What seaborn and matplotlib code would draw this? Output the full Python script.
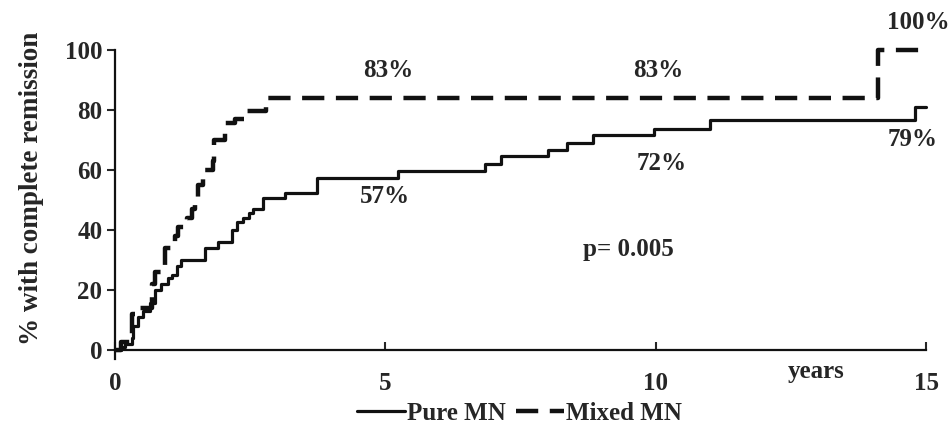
import matplotlib
matplotlib.use("Agg")
import matplotlib.pyplot as plt
import seaborn as sns
import pandas as pd

# ---- data ----
pure_t = [0, 0.12, 0.19, 0.31, 0.34, 0.43, 0.52, 0.65, 0.74, 0.86, 0.98, 1.05, 1.14, 1.23,
          1.67, 1.91, 2.16, 2.25, 2.37, 2.47, 2.56, 2.74, 3.15, 3.73, 5.24, 6.85, 7.13,
          8.0, 8.35, 8.84, 9.97, 11.0, 14.8, 15.0]
pure_y = [0, 1, 2, 4, 8, 11, 13, 15.5, 20, 22, 24, 25, 28, 30,
          34, 36, 40, 42.5, 44, 45.5, 47, 50.5, 52.3, 57.3, 59.8, 62, 64.5,
          66.7, 69, 71.7, 73.7, 76.6, 81, 81]

mixed_t = [0, 0.12, 0.31, 0.46, 0.68, 0.74, 0.93, 1.11, 1.17, 1.33, 1.42, 1.48, 1.54,
           1.63, 1.82, 1.84, 2.04, 2.22, 2.41, 2.8, 14.1, 15.0]
mixed_y = [0, 2.5, 12, 14, 22, 26, 34, 38, 41, 44, 47, 51, 55,
           60, 63, 70, 75.6, 77, 79.5, 84, 100, 100]

x_ticks = [0, 5, 10, 15]
y_ticks = [0, 20, 40, 60, 80, 100]

annotations = [("83%", 5.05, 93), ("83%", 10.05, 93), ("100%", 14.85, 109),
               ("57%", 5.0, 51), ("72%", 10.1, 62.3), ("79%", 14.75, 70),
               ("p= 0.005", 9.5, 33.5)]

series_labels = ["Pure MN", "Mixed MN"]

# ---- plotting ----
sns.set_style("ticks")
plt.rcParams["font.family"] = ["Liberation Serif", "DejaVu Serif"]
plt.rcParams["font.weight"] = "bold"

FS = 18

fig = plt.figure(figsize=(9.5, 4.38), dpi=100)
ax = fig.add_axes([0.121, 0.201, 0.854, 0.685])

df_pure = pd.DataFrame({"t": pure_t, "y": pure_y})
df_mixed = pd.DataFrame({"t": mixed_t, "y": mixed_y})

sns.lineplot(data=df_pure, x="t", y="y", ax=ax, color="#111111", linewidth=2.3,
             drawstyle="steps-post", estimator=None, clip_on=False)
sns.lineplot(data=df_mixed, x="t", y="y", ax=ax, color="#111111", linewidth=3.2,
             drawstyle="steps-post", estimator=None, clip_on=False,
             dashes=False)
lines = ax.get_lines()
lines[1].set_linestyle((0, (5.0, 2.6)))

ax.set_xlim(0, 15)
ax.set_ylim(0, 100)
ax.set_xticks(x_ticks)
ax.set_yticks(y_ticks)
ax.set_xlabel("")
ax.set_ylabel("% with complete remission", fontsize=19.5, fontweight="bold")
ax.yaxis.set_label_coords(-0.087, 0.54)

for s in ["top", "right"]:
    ax.spines[s].set_visible(False)
for s in ["left", "bottom"]:
    ax.spines[s].set_linewidth(1.6)
    ax.spines[s].set_color("#111111")
ax.spines["left"].set_bounds(-3, 100)

ax.tick_params(axis="y", direction="out", length=6, width=1.5, labelsize=FS, pad=3)
ax.tick_params(axis="x", direction="in", length=6, width=1.5, labelsize=FS, pad=16)

for txt, x, y in annotations:
    ax.text(x, y, txt, ha="center", va="center", fontsize=FS, fontweight="bold",
            clip_on=False)
ax.text(12.96, -7.3, "years", ha="center", va="center", fontsize=FS, fontweight="bold",
        clip_on=False)

fig.legend(handles=lines, labels=series_labels, loc="center",
           bbox_to_anchor=(0.547, 0.057), ncol=2, frameon=False,
           handlelength=1.9, handletextpad=0.1, columnspacing=0.4,
           prop={"weight": "bold", "size": FS})

fig.savefig("out.png", dpi=100, facecolor="white")
